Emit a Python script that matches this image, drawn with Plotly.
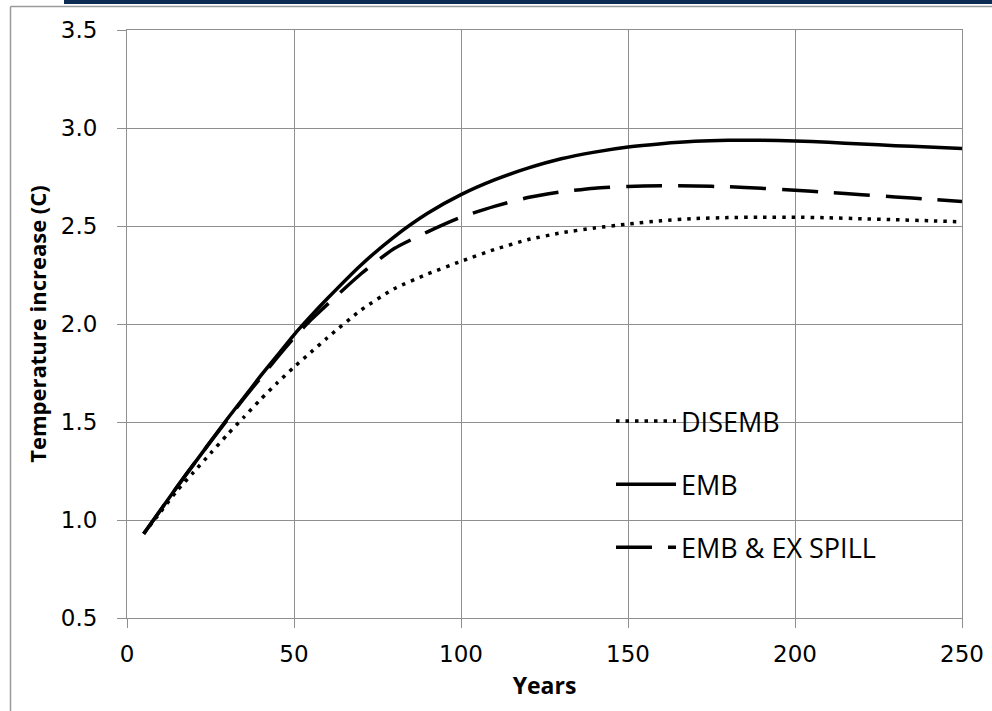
import plotly.graph_objects as go

years = [5, 10, 15, 20, 25, 30, 35, 40, 45, 50, 55, 60, 70, 80, 90, 100, 110, 120,
         130, 140, 150, 160, 170, 180, 190, 200, 210, 220, 230, 240, 250]

disemb = [0.93, 1.04, 1.15, 1.245, 1.34, 1.435, 1.525, 1.615, 1.70, 1.78, 1.855, 1.93,
          2.07, 2.18, 2.255, 2.32, 2.38, 2.43, 2.465, 2.49, 2.51, 2.527, 2.538, 2.543,
          2.545, 2.545, 2.542, 2.537, 2.532, 2.527, 2.521]

emb = [0.93, 1.05, 1.17, 1.285, 1.40, 1.515, 1.625, 1.735, 1.84, 1.945, 2.04, 2.13,
       2.30, 2.445, 2.565, 2.66, 2.735, 2.795, 2.843, 2.877, 2.903, 2.92, 2.932, 2.937,
       2.937, 2.934, 2.927, 2.918, 2.91, 2.903, 2.896]

emb_spill = [0.93, 1.05, 1.17, 1.285, 1.40, 1.51, 1.62, 1.725, 1.83, 1.93, 2.02, 2.10,
             2.255, 2.385, 2.47, 2.545, 2.60, 2.645, 2.674, 2.693, 2.702, 2.705, 2.704,
             2.70, 2.692, 2.683, 2.671, 2.66, 2.648, 2.637, 2.625]

series_names = ["DISEMB", "EMB", "EMB & EX SPILL"]
x_ticks = [0, 50, 100, 150, 200, 250]
y_ticks = [0.5, 1.0, 1.5, 2.0, 2.5, 3.0, 3.5]

W, H = 992, 711
L, R, T, B = 127, 30, 30, 93
pw = W - L - R
ph = H - T - B


def px_x(p):
    return (p - L) / pw


def px_y(p):
    return (H - B - p) / ph


fig = go.Figure()
styles = [
    dict(color="black", width=3.5, dash="3.5px,6px"),
    dict(color="black", width=3.5),
    dict(color="black", width=3.5, dash="36px,16px"),
]
for name, vals, st, grp in zip(series_names, [disemb, emb, emb_spill], styles, ["a", "b", "c"]):
    fig.add_trace(go.Scatter(
        x=years, y=vals, mode="lines", name=name, line=dict(shape="spline", smoothing=0.6, **st),
        legendgroup=grp,
    ))

grid = "#8f8f8f"
fig.update_xaxes(
    range=[0, 250], tickvals=x_ticks, ticktext=[str(v) for v in x_ticks],
    showgrid=True, gridcolor=grid, gridwidth=1, automargin=False,
    showline=True, linecolor=grid, linewidth=1, mirror=True,
    ticks="outside", ticklen=9, tickcolor=grid, ticklabelstandoff=6,
    tickfont=dict(family="DejaVu Sans", size=23, color="black"),
    title=dict(text="<b>Years</b>", font=dict(family="Open Sans", size=23, color="black"), standoff=12),
    zeroline=False,
)
fig.update_yaxes(
    range=[0.5, 3.5], tickvals=y_ticks, ticktext=[f"{v:.1f}" for v in y_ticks],
    showgrid=True, gridcolor=grid, gridwidth=1, automargin=False,
    showline=True, linecolor=grid, linewidth=1, mirror=True,
    ticks="outside", ticklen=9, tickcolor=grid, ticklabelstandoff=15,
    tickfont=dict(family="DejaVu Sans", size=23, color="black"),
    title=dict(text="<b>Temperature increase (C)</b>", font=dict(family="Open Sans", size=22, color="black"), standoff=8),
    zeroline=False,
)

shapes = [
    # white legend panel covering grid
    dict(type="rect", xref="paper", yref="paper", x0=px_x(546), x1=px_x(948), y0=px_y(578), y1=px_y(392),
         fillcolor="white", line=dict(width=0), layer="between"),
    # navy top band
    dict(type="rect", xref="paper", yref="paper", x0=px_x(64), x1=px_x(1000), y0=px_y(4), y1=px_y(-2),
         fillcolor="#0c2c54", line=dict(width=0), layer="above"),
    # outer grey frame top
    dict(type="line", xref="paper", yref="paper", x0=px_x(10.5), x1=px_x(1000), y0=px_y(6.5), y1=px_y(6.5),
         line=dict(color="#9a9a9a", width=1.5), layer="above"),
    # outer grey frame left
    dict(type="line", xref="paper", yref="paper", x0=px_x(10.5), x1=px_x(10.5), y0=px_y(6.5), y1=px_y(720),
         line=dict(color="#9a9a9a", width=1.5), layer="above"),
]

fig.update_layout(
    width=W, height=H,
    margin=dict(l=L, r=R, t=T, b=B, pad=0, autoexpand=False),
    paper_bgcolor="white", plot_bgcolor="white",
    font=dict(family="Open Sans", color="black"),
    shapes=shapes,
    showlegend=True,
    legend=dict(
        x=px_x(611), y=px_y(397), xanchor="left", yanchor="top",
        bgcolor="rgba(0,0,0,0)", borderwidth=0,
        font=dict(family="Open Sans", size=27, color="black"),
        traceorder="grouped", tracegroupgap=25, itemwidth=60,
    ),
)

fig.write_html(
    "out.html",
    config={"displayModeBar": False},
    post_script="document.body.style.margin='0';document.body.style.overflow='hidden';",
)
